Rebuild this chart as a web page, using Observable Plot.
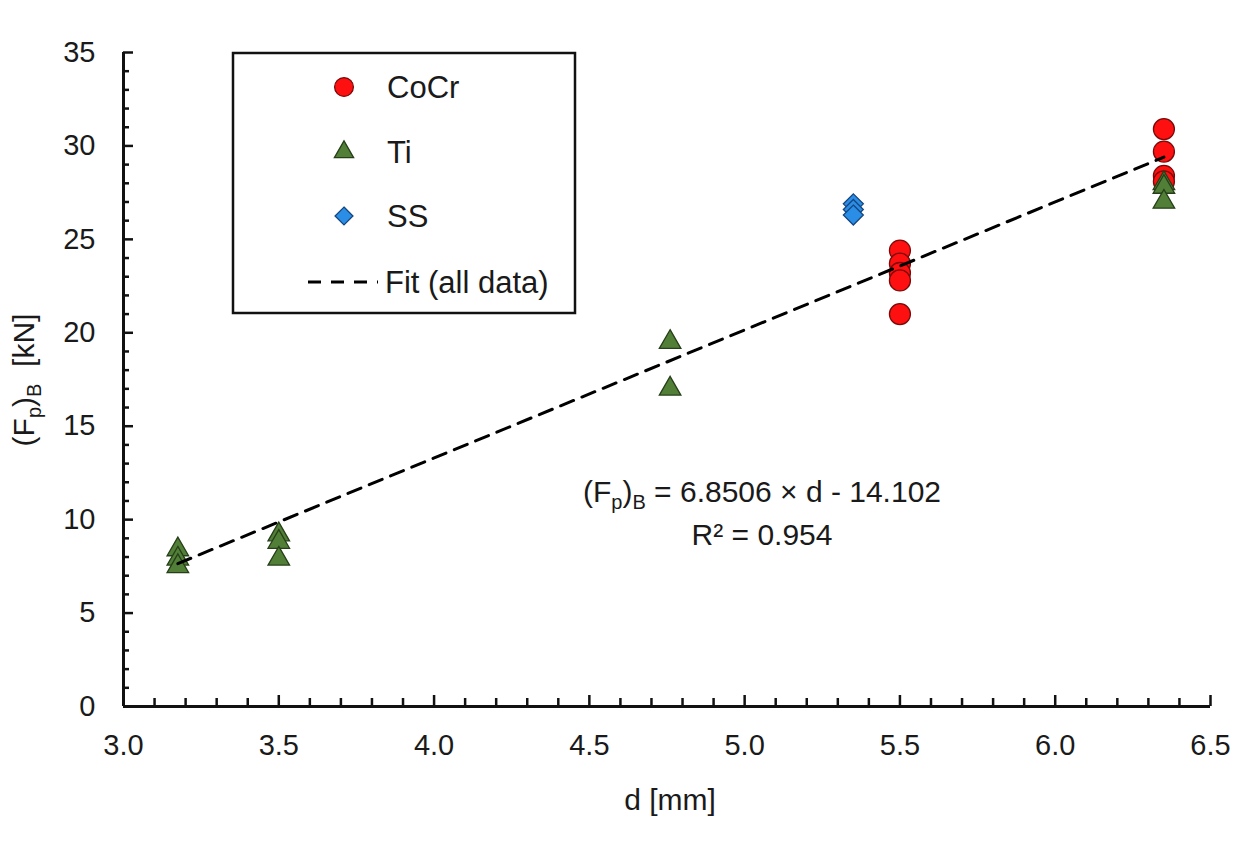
<!DOCTYPE html>
<html><head><meta charset="utf-8">
<script src="https://cdn.jsdelivr.net/npm/d3@7"></script>
<script src="https://cdn.jsdelivr.net/npm/@observablehq/plot@0.6"></script>
<style>body{margin:0;background:#fff;} #chart svg{display:block}</style>
</head><body><div id="chart"></div>
<script>
// ---- data ----
const seriesNames = ["CoCr", "Ti", "SS"];
const fitLabel = "Fit (all data)";
const cocrD = [5.5, 5.5, 5.5, 5.5, 5.5, 6.35, 6.35, 6.35, 6.35];
const cocrF = [24.4, 23.7, 23.2, 22.8, 21.0, 30.9, 29.7, 28.4, 28.1];
const tiD = [3.175, 3.175, 3.175, 3.5, 3.5, 3.5, 4.76, 4.76, 6.35, 6.35, 6.35];
const tiF = [8.4, 7.9, 7.5, 9.2, 8.8, 7.9, 19.5, 17.0, 28.0, 27.8, 27.0];
const ssD = [5.35, 5.35, 5.35];
const ssF = [26.9, 26.6, 26.3];
const fitSlope = 6.8506, fitIntercept = -14.102, fitR2 = 0.954;
const fitRange = [3.175, 6.35];
const xMajor = [3.0, 3.5, 4.0, 4.5, 5.0, 5.5, 6.0, 6.5];
const yMajor = [0, 5, 10, 15, 20, 25, 30, 35];
const xMinor = d3.range(31, 65).filter(v => v % 5 !== 0).map(v => v / 10);
const yMinor = d3.range(1, 35).filter(v => v % 5 !== 0);

const toRows = (xs, ys) => xs.map((x, i) => ({x, y: ys[i]}));
const cocr = toRows(cocrD, cocrF);
const ti = toRows(tiD, tiF);
const ss = toRows(ssD, ssF);
const fit = fitRange.map(x => ({x, y: fitSlope * x + fitIntercept}));

const colors = {
  CoCr: {fill: "#ff1010", stroke: "#7a0a0a", symbol: "circle", r: 10.5},
  Ti: {fill: "#527f38", stroke: "#263f18", symbol: "triangle", r: 8},
  SS: {fill: "#2a8ee6", stroke: "#17457e", symbol: "diamond2", r: 9}
};
const font = "Liberation Sans, Arial, Helvetica, sans-serif";
const ink = "#1a1a1a";

const chart = Plot.plot({
  width: 1242, height: 844,
  marginLeft: 123, marginRight: 32, marginTop: 52, marginBottom: 138,
  x: {domain: [3.0, 6.5]},
  y: {domain: [0, 35]},
  style: {fontFamily: font, fontSize: "29px", background: "white", color: ink},
  marks: [
    Plot.axisX({ticks: xMinor, tickSize: -8, tickFormat: () => "", label: null, strokeWidth: 2.5, stroke: "#111"}),
    Plot.axisX({ticks: xMajor, tickSize: -11, tickFormat: () => "", label: null, strokeWidth: 2.5, stroke: "#111"}),
    Plot.axisX({ticks: xMajor, tickSize: 0, tickPadding: 28, tickFormat: d3.format(".1f"), label: null, fontSize: 29}),
    Plot.axisY({ticks: yMinor, tickSize: -6, tickFormat: () => "", label: null, strokeWidth: 2.5, stroke: "#111"}),
    Plot.axisY({ticks: yMajor, tickSize: -10, tickFormat: () => "", label: null, strokeWidth: 2.5, stroke: "#111"}),
    Plot.axisY({ticks: yMajor, tickSize: 0, tickPadding: 28, tickFormat: d3.format("d"), label: null, fontSize: 29}),
    Plot.ruleX([3.0], {stroke: "#111", strokeWidth: 3}),
    Plot.ruleY([0], {stroke: "#111", strokeWidth: 3}),
    Plot.dot(cocr, {x: "x", y: "y", symbol: colors.CoCr.symbol, r: colors.CoCr.r, fill: colors.CoCr.fill, stroke: colors.CoCr.stroke, strokeWidth: 1.3}),
    Plot.dot(ti, {x: "x", y: "y", symbol: colors.Ti.symbol, r: colors.Ti.r, fill: colors.Ti.fill, stroke: colors.Ti.stroke, strokeWidth: 1.3}),
    Plot.dot(ss, {x: "x", y: "y", symbol: colors.SS.symbol, r: colors.SS.r, fill: colors.SS.fill, stroke: colors.SS.stroke, strokeWidth: 1.3}),
    Plot.line(fit, {x: "x", y: "y", stroke: "#000", strokeWidth: 3, strokeDasharray: "14,9"})
  ]
});
document.getElementById("chart").appendChild(chart);

// ---- extra text & legend ----
const svg = d3.select(chart);
function addText(g, x, y, str, size, anchor, extra = {}) {
  const t = g.append("text").attr("x", x).attr("y", y).attr("font-family", font)
    .attr("font-size", size).attr("fill", ink).attr("text-anchor", anchor).text(str);
  Object.entries(extra).forEach(([k, v]) => t.attr(k, v));
  return t;
}
function subText(g, parts, size, anchor, attrs) {
  const t = g.append("text").attr("font-family", font).attr("fill", ink)
    .attr("font-size", size).attr("text-anchor", anchor);
  Object.entries(attrs).forEach(([k, v]) => t.attr(k, v));
  let prevSub = false;
  const shift = Math.round(size * 0.22);
  parts.forEach(([s, sub]) => {
    const ts = t.append("tspan").text(s);
    if (sub) ts.attr("dy", prevSub ? 0 : shift).attr("font-size", Math.round(size * 0.68));
    else if (prevSub) ts.attr("dy", -shift);
    prevSub = !!sub;
  });
  return t;
}
// y label
subText(svg, [["(F", false], ["p", true], [")", false], ["B", true], ["\u00a0\u00a0[kN]", false]], 30, "middle",
  {transform: "translate(34,380) rotate(-90)"});
// x label
addText(svg, 670, 810, "d [mm]", 30, "middle");
// equation
subText(svg, [["(F", false], ["p", true], [")", false], ["B", true], [` = ${fitSlope} × d - ${Math.abs(fitIntercept)}`, false]], 30, "middle",
  {x: 762, y: 502});
addText(svg, 762, 545, `R² = ${fitR2}`, 30, "middle");

// legend
const lg = svg.append("g");
lg.append("rect").attr("x", 233).attr("y", 53).attr("width", 342).attr("height", 260)
  .attr("fill", "white").attr("stroke", "#111").attr("stroke-width", 2.5);
const symMap = {circle: d3.symbolCircle, triangle: d3.symbolTriangle, diamond2: d3.symbolDiamond2};
const rowsY = [87, 152, 216];
seriesNames.forEach((name, i) => {
  const c = colors[name];
  lg.append("path").attr("d", d3.symbol(symMap[c.symbol], Math.PI * c.r * c.r * 0.8)())
    .attr("transform", `translate(344,${rowsY[i]})`).attr("fill", c.fill).attr("stroke", c.stroke).attr("stroke-width", 1.3);
  addText(lg, 387, rowsY[i] + 11, name, 31, "start");
});
lg.append("line").attr("x1", 308).attr("x2", 378).attr("y1", 282).attr("y2", 282)
  .attr("stroke", "#000").attr("stroke-width", 3).attr("stroke-dasharray", "13,10");
addText(lg, 385, 293, fitLabel, 31, "start");
</script></body></html>
